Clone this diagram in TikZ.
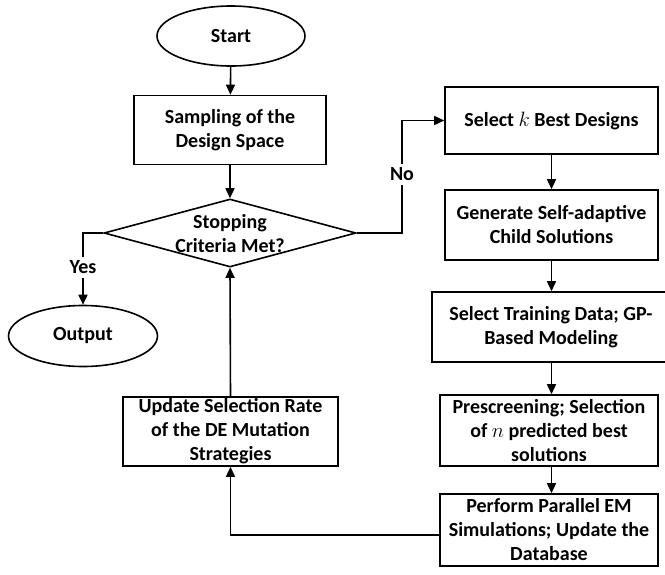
\documentclass[tikz,border=0pt]{standalone}
\usepackage{fontspec}
\setmainfont{Carlito}
\usetikzlibrary{arrows.meta,shapes.geometric}
\begin{document}
\begin{tikzpicture}[x=1pt,y=-1pt,
  font=\fontsize{20}{24}\selectfont\bfseries,
  box/.style={draw,line width=1.6pt,rectangle,inner sep=0pt,align=center},
  oval/.style={draw,line width=1.6pt,ellipse,inner sep=0pt},
  arr/.style={line width=1.6pt,-{Triangle[length=10pt,width=9pt]}},
  lbl/.style={fill=white,inner sep=4pt}]
\useasboundingbox (0,0) rectangle (665,574);
\clip (0,0) rectangle (665,574);
\node[oval,minimum width=148,minimum height=60] (start) at (231,36) {Start};
\node[box,minimum width=192,minimum height=69] (samp) at (230,130) {Sampling of the\\Design Space};
\node[draw,diamond,line width=1.6pt,inner sep=0pt,minimum width=252,minimum height=68] (dec) at (230,233) {};
\node[align=center] (dectext) at (230,234) {Stopping\\Criteria Met?};
\node[oval,minimum width=149,minimum height=61] (out) at (83,336) {Output};
\node[box,minimum width=213,minimum height=67] (selk) at (551.5,120.5) {Select $k$ Best Designs};
\node[box,minimum width=213,minimum height=70] (gen) at (551.5,225) {Generate Self-adaptive\\Child Solutions};
\node[box,minimum width=238,minimum height=70] (train) at (551,327) {Select Training Data; GP-\\Based Modeling};
\node[box,minimum width=218,minimum height=71] (pre) at (549,430.5) {Prescreening; Selection\\of $n$ predicted best\\solutions};
\node[box,minimum width=218,minimum height=72] (perf) at (549,530) {Perform Parallel EM\\Simulations; Update the\\Database};
\node[box,minimum width=215,minimum height=69] (upd) at (230.5,431.5) {Update Selection Rate\\of the DE Mutation\\Strategies};
\coordinate (nb) at (402,233);
\draw[arr] (start) -- (samp);
\draw[arr] (samp) -- (dec.north);
\draw[arr] (dec.west) -| node[lbl,pos=0.74]{Yes} (out.north);
\draw[arr] (dec.east) -- (nb) |- node[lbl,pos=0.26]{No} (selk.west);
\draw[arr] (selk.south) -- (gen.north);
\draw[arr] (gen.south) -- (gen.south |- train.north);
\draw[arr] (train.south -| gen.south) -- (pre.north -| gen.south);
\draw[arr] (pre.south -| gen.south) -- (perf.north -| gen.south);
\draw[arr] ([yshift=-5pt]perf.west) -| (upd.south);
\draw[arr] (upd.north) -- (dec.south);
\end{tikzpicture}
\end{document}
